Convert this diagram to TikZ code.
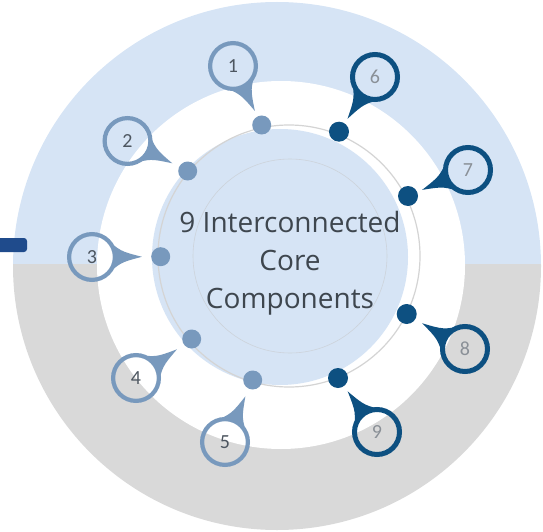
\documentclass[tikz,border=0pt]{standalone}
\usepackage{fontspec}
\setmainfont{Open Sans}
\newfontfamily\numfont{Carlito}
\usetikzlibrary{calc}
\definecolor{bgblue}{HTML}{D6E4F5}
\definecolor{bggray}{HTML}{D9D9D9}
\definecolor{pinL}{HTML}{7899BD}
\definecolor{pinR}{HTML}{0D5081}
\definecolor{barblue}{HTML}{1F4B8C}
\definecolor{txt}{HTML}{3E464E}
\definecolor{numL}{HTML}{4D5660}
\definecolor{numR}{HTML}{8A9097}
\definecolor{trackc}{HTML}{D4D4D4}
\definecolor{faintc}{HTML}{CDD3DB}
\tikzset{
  dotL/.style={circle,fill=pinL,minimum size=19pt,inner sep=0pt},
  dotR/.style={circle,fill=pinR,minimum size=20pt,inner sep=0pt},
  numL/.style={text=numL,font=\numfont\fontsize{20}{20}\selectfont,inner sep=0pt},
  numR/.style={text=numR,font=\numfont\fontsize{20}{20}\selectfont,inner sep=0pt},
  title/.style={text=txt,font=\fontsize{28}{32}\selectfont,anchor=base,inner sep=0pt},
}
\newcommand{\drawpin}[4]{% #1 pin node, #2 dot node, #3 colour, #4 ring width
  \fill[#3] let \p1=($(#2)-(#1)$), \n1={atan2(\y1,\x1)} in
    ($(#1)+(\n1+58:23.5)$) .. controls ($(#1)+(\n1+11:29)$) .. ($(#1)+(\n1:50)$)
    .. controls ($(#1)+(\n1-11:29)$) .. ($(#1)+(\n1-58:23.5)$)
    arc[start angle=\n1-58, end angle=\n1+58, radius=23.5] -- cycle;
  \draw[#3,line width=#4] (#1.center) circle ({25-#4/2});
}
\begin{document}
\begin{tikzpicture}[x=1pt,y=1pt]
\useasboundingbox (0,0) rectangle (543,-532);
% outer disc, blue above, grey below
\begin{scope}
  \clip (277,-266) circle (264);
  \fill[bgblue] (0,0) rectangle (543,-264);
  \fill[bggray] (0,-264) rectangle (543,-532);
\end{scope}
% white ring and inner disc
\fill[white] (281,-265) circle (184);
\fill[bgblue] (280,-257) circle (128);
\draw[trackc,line width=1.2pt] (289,-256) circle (131);
\draw[faintc,line width=0.6pt] (290,-256) circle (97);
% left bar
\fill[barblue,rounded corners=3pt] (-6,-238) rectangle (27,-252);
% title
\node[title] (t1) at (290,-232) {9 Interconnected};
\node[title] (t2) at (290,-270) {Core};
\node[title] (t3) at (290,-308) {Components};
% dots
\node[dotL] (d1) at (261.7,-125) {};
\node[dotL] (d2) at (187.7,-171) {};
\node[dotL] (d3) at (160.7,-256.7) {};
\node[dotL] (d4) at (191.7,-339) {};
\node[dotL] (d5) at (252.7,-380) {};
\node[dotR] (d6) at (339,-131.7) {};
\node[dotR] (d7) at (408,-196) {};
\node[dotR] (d8) at (406.7,-314) {};
\node[dotR] (d9) at (338,-378) {};
% pins
\node[numL] (p1) at (233,-66) {1};
\node[numL] (p2) at (127.5,-141) {2};
\node[numL] (p3) at (92,-257) {3};
\node[numL] (p4) at (136,-378) {4};
\node[numL] (p5) at (225,-442) {5};
\node[numR] (p6) at (375,-77) {6};
\node[numR] (p7) at (468,-170) {7};
\node[numR] (p8) at (465,-349) {8};
\node[numR] (p9) at (377,-432) {9};
\drawpin{p1}{d1}{pinL}{4.2}
\drawpin{p2}{d2}{pinL}{4.2}
\drawpin{p3}{d3}{pinL}{4.2}
\drawpin{p4}{d4}{pinL}{4.2}
\drawpin{p5}{d5}{pinL}{4.2}
\drawpin{p6}{d6}{pinR}{5}
\drawpin{p7}{d7}{pinR}{5}
\drawpin{p8}{d8}{pinR}{5}
\drawpin{p9}{d9}{pinR}{5}
\end{tikzpicture}
\end{document}
